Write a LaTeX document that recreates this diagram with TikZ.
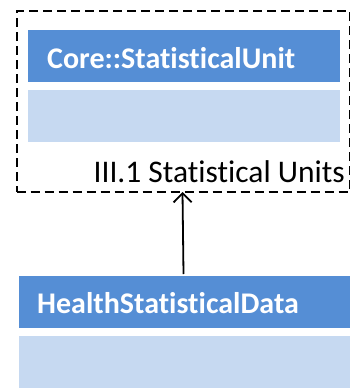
\documentclass[tikz,border=0pt]{standalone}
\usepackage{fontspec}
\setmainfont[Ligatures={NoCommon}]{Carlito}
\usetikzlibrary{arrows.meta}
\definecolor{hdr}{HTML}{558ED5}
\definecolor{bdy}{HTML}{C6D9F1}
\tikzset{
  hdrbox/.style={fill=hdr, draw=none, inner sep=0pt, anchor=north west},
  bdybox/.style={fill=bdy, draw=none, inner sep=0pt, anchor=north west},
  hdrtext/.style={text=white, font=\bfseries\fontsize{30}{36}\selectfont, anchor=base west, inner sep=0pt},
  pkg/.style={draw=black, line width=2.4pt, dash pattern=on 9pt off 5pt},
  gen/.style={draw=black, line width=1.8pt, -{Straight Barb[length=9pt,width=18pt,line width=1.8pt]}}
}
\begin{document}
\begin{tikzpicture}[x=1pt,y=-1pt]
\useasboundingbox (0,0) rectangle (350,388);
% package
\node[pkg, minimum width=333pt, minimum height=181pt, inner sep=0pt, anchor=north west] (pk) at (15.5,10) {};
\node[hdrbox, minimum width=312pt, minimum height=52pt] (h1) at (28,30) {};
\node[bdybox, minimum width=312pt, minimum height=52pt] (b1) at (28,90) {};
\node[hdrtext] (t1) at (47,68) {Core::StatisticalUnit};
\node[anchor=base east, inner sep=0pt, font=\fontsize{31.5}{36}\selectfont] (pl) at (345,182) {III.1 Statistical Units};
% class 2
\node[hdrbox, minimum width=331pt, minimum height=52pt] (h2) at (19,276) {};
\node[bdybox, minimum width=331pt, minimum height=52pt] (b2) at (19,336) {};
\node[hdrtext] (t2) at (37,313) {HealthStatisticalData};
\coordinate (a0) at (183.5,274);
\coordinate (a1) at (182.5,192);
\draw[gen] (a0) -- (a1);
\end{tikzpicture}
\end{document}
